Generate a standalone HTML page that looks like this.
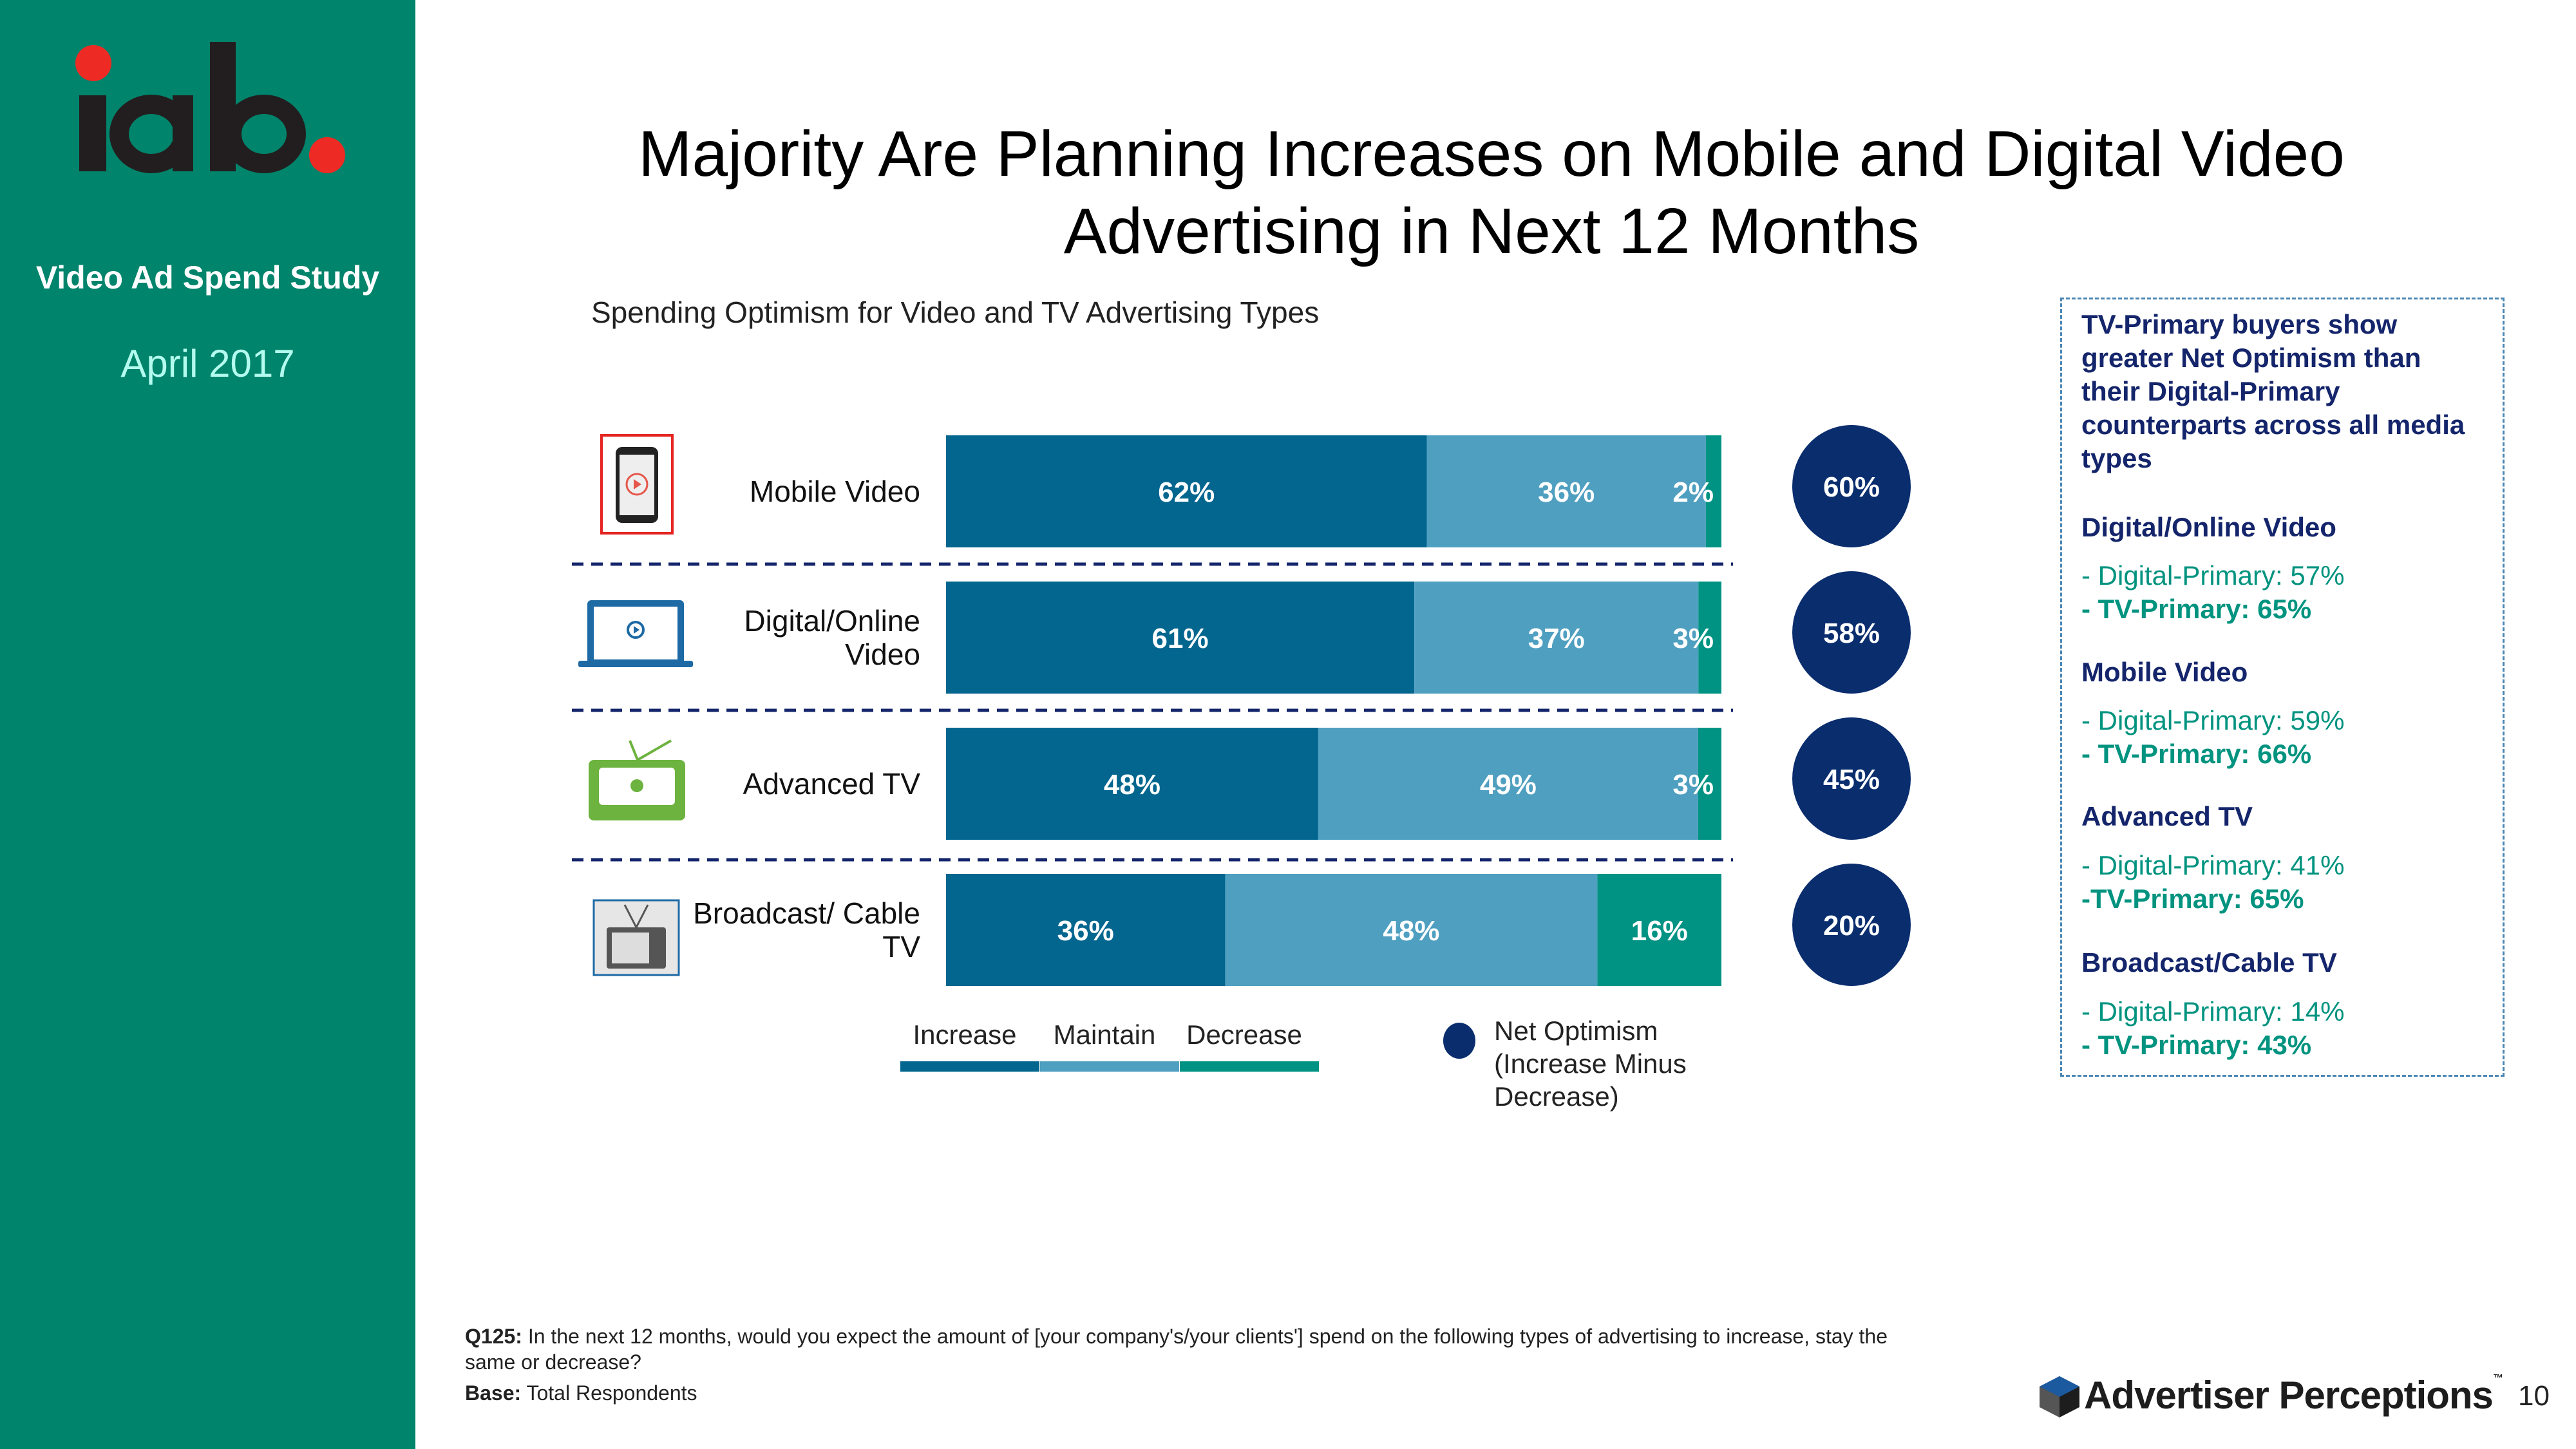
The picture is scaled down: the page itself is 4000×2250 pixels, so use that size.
<!DOCTYPE html>
<html><head><meta charset="utf-8"><style>
*{margin:0;padding:0;box-sizing:border-box}
body{width:4000px;height:2250px;position:relative;background:#fff;font-family:"Liberation Sans",sans-serif;overflow:hidden}
.abs{position:absolute;white-space:nowrap}
#side{position:absolute;left:0;top:0;width:645px;height:2250px;background:#00846b}
.rb{position:absolute;left:3232px;font-size:42px;line-height:52px;white-space:nowrap}
.nv{color:#14256b;font-weight:bold}
.tl{color:#00937f}
.tb{color:#00937f;font-weight:bold}
</style></head><body>
<div id="side">
  <svg width="645" height="320">
    <circle cx="145" cy="98" r="28" fill="#ee2a24"/>
    <rect x="123" y="148" width="42" height="118" fill="#221e1f"/>
    <ellipse cx="235" cy="208" rx="50" ry="46" fill="none" stroke="#221e1f" stroke-width="30"/>
    <rect x="268" y="148" width="32" height="118" fill="#221e1f"/>
    <rect x="326" y="65" width="40" height="201" fill="#221e1f"/>
    <ellipse cx="410" cy="208" rx="50" ry="46" fill="none" stroke="#221e1f" stroke-width="30"/>
    <circle cx="508" cy="241" r="28" fill="#ee2a24"/>
  </svg>
  <div class="abs" style="left:0;width:645px;text-align:center;top:402px;font-size:50px;font-weight:bold;color:#fff">Video Ad Spend Study</div>
  <div class="abs" style="left:0;width:645px;text-align:center;top:530px;font-size:60px;color:#b4fbef">April 2017</div>
</div>
<div class="abs" style="left:700px;width:3232px;text-align:center;top:179px;font-size:100px;line-height:120px;color:#000">Majority Are Planning Increases on Mobile and Digital Video<br>Advertising in Next 12 Months</div>
<div class="abs" style="left:918px;top:458px;font-size:46px;color:#222">Spending Optimism for Video and TV Advertising Types</div>

<svg id="chart" class="abs" style="left:0;top:0" width="3200" height="1800"></svg>

<div style="position:absolute;left:3199px;top:462px;width:690px;height:1210px;border:3px dashed #4a86b4"></div>
<div class="rb nv" style="top:478px">TV-Primary buyers show<br>greater Net Optimism than<br>their Digital-Primary<br>counterparts across all media<br>types</div>
<div class="rb nv" style="top:793px">Digital/Online Video</div>
<div class="rb" style="top:868px"><span class="tl">- Digital-Primary: 57%</span><br><span class="tb">- TV-Primary: 65%</span></div>
<div class="rb nv" style="top:1018px">Mobile Video</div>
<div class="rb" style="top:1093px"><span class="tl">- Digital-Primary: 59%</span><br><span class="tb">- TV-Primary: 66%</span></div>
<div class="rb nv" style="top:1242px">Advanced TV</div>
<div class="rb" style="top:1318px"><span class="tl">- Digital-Primary: 41%</span><br><span class="tb">-TV-Primary: 65%</span></div>
<div class="rb nv" style="top:1469px">Broadcast/Cable TV</div>
<div class="rb" style="top:1545px"><span class="tl">- Digital-Primary: 14%</span><br><span class="tb">- TV-Primary: 43%</span></div>

<div class="abs" style="left:722px;top:2055px;font-size:32px;line-height:40px;color:#222;white-space:normal;width:2270px"><b>Q125:</b> In the next 12 months, would you expect the amount of [your company's/your clients'] spend on the following types of advertising to increase, stay the same or decrease?</div>
<div class="abs" style="left:722px;top:2145px;font-size:32px;color:#222"><b>Base:</b> Total Respondents</div>
<svg class="abs" style="left:3165px;top:2135px" width="66" height="68">
  <polygon points="33,2 64,18 64,50 33,66 2,50 2,18" fill="#1d1d1d"/><polygon points="33,2 64,18 33,34 2,18" fill="#1c5aa0"/><polygon points="2,18 33,34 33,66 2,50" fill="#fff" opacity=".25"/>
</svg>
<div class="abs" style="left:3236px;top:2132px;font-size:60px;font-weight:bold;color:#1d1d1d;letter-spacing:-1px">Advertiser Perceptions<span style="font-size:16px;vertical-align:top">™</span></div>
<div class="abs" style="left:3910px;top:2143px;font-size:44px;color:#222">10</div>

<script>
const categories = ["Mobile Video", "Digital/Online Video", "Advanced TV", "Broadcast/ Cable TV"];
const increaseVals = [62, 61, 48, 36];
const maintainVals = [36, 37, 49, 48];
const decreaseVals = [2, 3, 3, 16];
const netOptimism = [60, 58, 45, 20];
const labelLines = [["Mobile Video"], ["Digital/Online", "Video"], ["Advanced TV"], ["Broadcast/ Cable", "TV"]];

const NS = "http://www.w3.org/2000/svg";
const svg = document.getElementById('chart');
const x0 = 1469, x1 = 2673;
const rowTop = i => 676 + i * 227;
const barH = 174;
const colors = ["#03668f", "#4f9fc0", "#009383"];
function mk(tag, attrs) { const e = document.createElementNS(NS, tag); for (const k in attrs) e.setAttribute(k, attrs[k]); svg.appendChild(e); return e; }

categories.forEach((c, i) => {
  const y = rowTop(i);
  const vals = [increaseVals[i], maintainVals[i], decreaseVals[i]];
  const tot = vals[0] + vals[1] + vals[2];
  const xs = v => x0 + (x1 - x0) * v / tot;
  let acc = 0;
  vals.forEach((v, j) => {
    const r = mk('rect', { x: xs(acc), y: y, width: xs(acc + v) - xs(acc), height: barH, fill: colors[j] });
    
    
    const small = j === 2 && v < 10;
    const t = mk('text', { x: small ? x1 - 12 : xs(acc + v / 2), y: y + barH / 2 + 16, fill: '#fff', 'font-size': 44, 'font-weight': 'bold', 'text-anchor': small ? 'end' : 'middle' });
    t.textContent = v + '%';
    
    
    acc += v;
  });
  const lines = labelLines[i];
  lines.forEach((ln, k) => {
    const t = mk('text', { x: 1429, y: y + barH / 2 + 16 + (k - (lines.length - 1) / 2) * 52, fill: '#111', 'font-size': 46, 'text-anchor': 'end' });
    t.textContent = ln;
    
    
  });
  const ci = mk('ellipse', { cx: 2875, cy: y + barH / 2 - 8, rx: 92, ry: 95, fill: '#0a2d6e' });
  
  
  const ct = mk('text', { x: 2875, y: y + barH / 2 + 8, fill: '#fff', 'font-size': 44, 'font-weight': 'bold', 'text-anchor': 'middle' });
  ct.textContent = netOptimism[i] + '%';
  
  
  if (i < categories.length - 1) {
    const yy = y + barH + 26 + (i === 2 ? 5 : 0);
    const d = mk('line', { x1: 888, x2: 2691, y1: yy, y2: yy, stroke: '#14256b', 'stroke-width': 5, 'stroke-dasharray': '18 12' });
    
    
  }
});

const ic = [
 '<rect x="934" y="676" width="110" height="152" fill="none" stroke="#e52521" stroke-width="4"/><rect x="956" y="694" width="66" height="118" rx="10" fill="#222"/><rect x="962" y="706" width="54" height="94" fill="#eee"/><circle cx="989" cy="752" r="16" fill="none" stroke="#e6564a" stroke-width="3"/><polygon points="984,744 984,760 996,752" fill="#e6564a"/>',
 '<rect x="912" y="932" width="150" height="100" rx="6" fill="#1d6aa5"/><rect x="922" y="942" width="130" height="82" fill="#fff"/><rect x="898" y="1026" width="178" height="10" rx="3" fill="#1d6aa5"/><circle cx="987" cy="978" r="12" fill="none" stroke="#1d6aa5" stroke-width="4"/><polygon points="984,972 984,984 993,978" fill="#1d6aa5"/>',
 '<line x1="990" y1="1180" x2="978" y2="1150" stroke="#6db33f" stroke-width="4"/><line x1="990" y1="1180" x2="1042" y2="1150" stroke="#6db33f" stroke-width="4"/><rect x="914" y="1180" width="150" height="94" rx="8" fill="#6db33f"/><rect x="930" y="1192" width="118" height="58" rx="6" fill="#fff"/><circle cx="989" cy="1220" r="10" fill="#6db33f"/>',
 '<rect x="922" y="1398" width="132" height="116" fill="#e6e6e6" stroke="#1d6aa5" stroke-width="3"/><rect x="942" y="1440" width="92" height="64" rx="4" fill="#555"/><rect x="950" y="1448" width="58" height="48" fill="#ddd"/><line x1="988" y1="1440" x2="970" y2="1405" stroke="#555" stroke-width="3"/><line x1="988" y1="1440" x2="1006" y2="1405" stroke="#555" stroke-width="3"/>'
];
const g = mk('g', {});


g.innerHTML = ic.join('');

const legNames = ["Increase", "Maintain", "Decrease"];
const legX = [1398, 1615, 1832];
legNames.forEach((n, j) => {
  const t = mk('text', { x: legX[j] + 100, y: 1621, fill: '#222', 'font-size': 42, 'text-anchor': 'middle' });
  t.textContent = n;
  
  
  const r = mk('rect', { x: legX[j], y: 1648, width: 216, height: 16, fill: colors[j] });
  
  
});
const ld = mk('ellipse', { cx: 2266, cy: 1616, rx: 25, ry: 28, fill: '#0a2d6e' });


["Net Optimism", "(Increase Minus", "Decrease)"].forEach((s, k) => {
  const t = mk('text', { x: 2320, y: 1615 + k * 51, fill: '#222', 'font-size': 42 });
  t.textContent = s;
  
  
});
</script>
</body></html>
